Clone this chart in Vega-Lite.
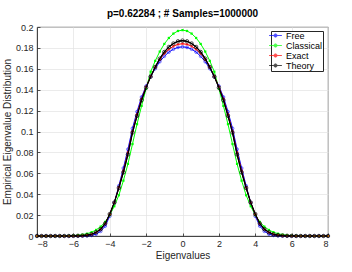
{
  "$schema": "https://vega.github.io/schema/vega-lite/v6.json",
  "width": 291,
  "height": 209,
  "autosize": {"type": "none"},
  "padding": {"left": 37, "top": 27, "right": 24, "bottom": 36},
  "background": "white",
  "title": {"text": "p=0.62284 ; # Samples=1000000", "font": "Liberation Sans", "fontSize": 10, "fontWeight": "bold", "color": "#000000", "offset": 4, "anchor": "middle"},
  "config": {
    "view": {"stroke": "#262626", "strokeWidth": 0.8},
    "axis": {"labelFont": "Liberation Sans", "labelFontSize": 9, "labelColor": "#262626", "titleFont": "Liberation Sans", "titleFontSize": 10, "titleFontWeight": "normal", "titleColor": "#262626", "gridColor": "#e3e3e3", "gridWidth": 0.7, "domainColor": "#262626", "domainWidth": 0.8, "tickColor": "#262626", "tickSize": -3, "tickWidth": 0.8}
  },
  "data": {"values": [
{"s":"Free","x":-8,"y":0},{"s":"Free","x":-7.75,"y":0},{"s":"Free","x":-7.5,"y":0},{"s":"Free","x":-7.25,"y":0},{"s":"Free","x":-7,"y":0},{"s":"Free","x":-6.75,"y":0},{"s":"Free","x":-6.5,"y":0},{"s":"Free","x":-6.25,"y":0},{"s":"Free","x":-6,"y":0},{"s":"Free","x":-5.75,"y":0},{"s":"Free","x":-5.5,"y":0.0001},{"s":"Free","x":-5.25,"y":0.0002},{"s":"Free","x":-5,"y":0.0006},{"s":"Free","x":-4.75,"y":0.0018},{"s":"Free","x":-4.5,"y":0.0045},{"s":"Free","x":-4.25,"y":0.0095},{"s":"Free","x":-4,"y":0.019},{"s":"Free","x":-3.75,"y":0.032},{"s":"Free","x":-3.5,"y":0.048},{"s":"Free","x":-3.25,"y":0.065},{"s":"Free","x":-3,"y":0.083},{"s":"Free","x":-2.75,"y":0.103},{"s":"Free","x":-2.5,"y":0.119},{"s":"Free","x":-2.25,"y":0.133},{"s":"Free","x":-2,"y":0.1435},{"s":"Free","x":-1.75,"y":0.1525},{"s":"Free","x":-1.5,"y":0.1602},{"s":"Free","x":-1.25,"y":0.1668},{"s":"Free","x":-1,"y":0.172},{"s":"Free","x":-0.75,"y":0.176},{"s":"Free","x":-0.5,"y":0.1788},{"s":"Free","x":-0.25,"y":0.1805},{"s":"Free","x":0,"y":0.181},{"s":"Free","x":0.25,"y":0.1805},{"s":"Free","x":0.5,"y":0.1788},{"s":"Free","x":0.75,"y":0.176},{"s":"Free","x":1,"y":0.172},{"s":"Free","x":1.25,"y":0.1668},{"s":"Free","x":1.5,"y":0.1602},{"s":"Free","x":1.75,"y":0.1525},{"s":"Free","x":2,"y":0.1435},{"s":"Free","x":2.25,"y":0.133},{"s":"Free","x":2.5,"y":0.119},{"s":"Free","x":2.75,"y":0.103},{"s":"Free","x":3,"y":0.083},{"s":"Free","x":3.25,"y":0.065},{"s":"Free","x":3.5,"y":0.048},{"s":"Free","x":3.75,"y":0.032},{"s":"Free","x":4,"y":0.019},{"s":"Free","x":4.25,"y":0.0095},{"s":"Free","x":4.5,"y":0.0045},{"s":"Free","x":4.75,"y":0.0018},{"s":"Free","x":5,"y":0.0006},{"s":"Free","x":5.25,"y":0.0002},{"s":"Free","x":5.5,"y":0.0001},{"s":"Free","x":5.75,"y":0},{"s":"Free","x":6,"y":0},{"s":"Free","x":6.25,"y":0},{"s":"Free","x":6.5,"y":0},{"s":"Free","x":6.75,"y":0},{"s":"Free","x":7,"y":0},{"s":"Free","x":7.25,"y":0},{"s":"Free","x":7.5,"y":0},{"s":"Free","x":7.75,"y":0},{"s":"Free","x":8,"y":0},
{"s":"Classical","x":-8,"y":0},{"s":"Classical","x":-7.75,"y":0},{"s":"Classical","x":-7.5,"y":0},{"s":"Classical","x":-7.25,"y":0},{"s":"Classical","x":-7,"y":0},{"s":"Classical","x":-6.75,"y":0},{"s":"Classical","x":-6.5,"y":0.0001},{"s":"Classical","x":-6.25,"y":0.0002},{"s":"Classical","x":-6,"y":0.0004},{"s":"Classical","x":-5.75,"y":0.0007},{"s":"Classical","x":-5.5,"y":0.0013},{"s":"Classical","x":-5.25,"y":0.0022},{"s":"Classical","x":-5,"y":0.0036},{"s":"Classical","x":-4.75,"y":0.0058},{"s":"Classical","x":-4.5,"y":0.009},{"s":"Classical","x":-4.25,"y":0.0135},{"s":"Classical","x":-4,"y":0.02},{"s":"Classical","x":-3.75,"y":0.0285},{"s":"Classical","x":-3.5,"y":0.039},{"s":"Classical","x":-3.25,"y":0.053},{"s":"Classical","x":-3,"y":0.069},{"s":"Classical","x":-2.75,"y":0.088},{"s":"Classical","x":-2.5,"y":0.107},{"s":"Classical","x":-2.25,"y":0.1245},{"s":"Classical","x":-2,"y":0.141},{"s":"Classical","x":-1.75,"y":0.1572},{"s":"Classical","x":-1.5,"y":0.1676},{"s":"Classical","x":-1.25,"y":0.1765},{"s":"Classical","x":-1,"y":0.1838},{"s":"Classical","x":-0.75,"y":0.1895},{"s":"Classical","x":-0.5,"y":0.1937},{"s":"Classical","x":-0.25,"y":0.1962},{"s":"Classical","x":0,"y":0.197},{"s":"Classical","x":0.25,"y":0.1962},{"s":"Classical","x":0.5,"y":0.1937},{"s":"Classical","x":0.75,"y":0.1895},{"s":"Classical","x":1,"y":0.1838},{"s":"Classical","x":1.25,"y":0.1765},{"s":"Classical","x":1.5,"y":0.1676},{"s":"Classical","x":1.75,"y":0.1572},{"s":"Classical","x":2,"y":0.141},{"s":"Classical","x":2.25,"y":0.1245},{"s":"Classical","x":2.5,"y":0.107},{"s":"Classical","x":2.75,"y":0.088},{"s":"Classical","x":3,"y":0.069},{"s":"Classical","x":3.25,"y":0.053},{"s":"Classical","x":3.5,"y":0.039},{"s":"Classical","x":3.75,"y":0.0285},{"s":"Classical","x":4,"y":0.02},{"s":"Classical","x":4.25,"y":0.0135},{"s":"Classical","x":4.5,"y":0.009},{"s":"Classical","x":4.75,"y":0.0058},{"s":"Classical","x":5,"y":0.0036},{"s":"Classical","x":5.25,"y":0.0022},{"s":"Classical","x":5.5,"y":0.0013},{"s":"Classical","x":5.75,"y":0.0007},{"s":"Classical","x":6,"y":0.0004},{"s":"Classical","x":6.25,"y":0.0002},{"s":"Classical","x":6.5,"y":0.0001},{"s":"Classical","x":6.75,"y":0},{"s":"Classical","x":7,"y":0},{"s":"Classical","x":7.25,"y":0},{"s":"Classical","x":7.5,"y":0},{"s":"Classical","x":7.75,"y":0},{"s":"Classical","x":8,"y":0},
{"s":"Exact","x":-8,"y":0},{"s":"Exact","x":-7.75,"y":0},{"s":"Exact","x":-7.5,"y":0},{"s":"Exact","x":-7.25,"y":0},{"s":"Exact","x":-7,"y":0},{"s":"Exact","x":-6.75,"y":0},{"s":"Exact","x":-6.5,"y":0},{"s":"Exact","x":-6.25,"y":0},{"s":"Exact","x":-6,"y":0.0001},{"s":"Exact","x":-5.75,"y":0.0002},{"s":"Exact","x":-5.5,"y":0.0004},{"s":"Exact","x":-5.25,"y":0.0008},{"s":"Exact","x":-5,"y":0.0016},{"s":"Exact","x":-4.75,"y":0.0034},{"s":"Exact","x":-4.5,"y":0.0065},{"s":"Exact","x":-4.25,"y":0.0118},{"s":"Exact","x":-4,"y":0.0205},{"s":"Exact","x":-3.75,"y":0.032},{"s":"Exact","x":-3.5,"y":0.0465},{"s":"Exact","x":-3.25,"y":0.0625},{"s":"Exact","x":-3,"y":0.08},{"s":"Exact","x":-2.75,"y":0.1},{"s":"Exact","x":-2.5,"y":0.1165},{"s":"Exact","x":-2.25,"y":0.1312},{"s":"Exact","x":-2,"y":0.1428},{"s":"Exact","x":-1.75,"y":0.1528},{"s":"Exact","x":-1.5,"y":0.1615},{"s":"Exact","x":-1.25,"y":0.1688},{"s":"Exact","x":-1,"y":0.1745},{"s":"Exact","x":-0.75,"y":0.1786},{"s":"Exact","x":-0.5,"y":0.1816},{"s":"Exact","x":-0.25,"y":0.1834},{"s":"Exact","x":0,"y":0.184},{"s":"Exact","x":0.25,"y":0.1834},{"s":"Exact","x":0.5,"y":0.1816},{"s":"Exact","x":0.75,"y":0.1786},{"s":"Exact","x":1,"y":0.1745},{"s":"Exact","x":1.25,"y":0.1688},{"s":"Exact","x":1.5,"y":0.1615},{"s":"Exact","x":1.75,"y":0.1528},{"s":"Exact","x":2,"y":0.1428},{"s":"Exact","x":2.25,"y":0.1312},{"s":"Exact","x":2.5,"y":0.1165},{"s":"Exact","x":2.75,"y":0.1},{"s":"Exact","x":3,"y":0.08},{"s":"Exact","x":3.25,"y":0.0625},{"s":"Exact","x":3.5,"y":0.0465},{"s":"Exact","x":3.75,"y":0.032},{"s":"Exact","x":4,"y":0.0205},{"s":"Exact","x":4.25,"y":0.0118},{"s":"Exact","x":4.5,"y":0.0065},{"s":"Exact","x":4.75,"y":0.0034},{"s":"Exact","x":5,"y":0.0016},{"s":"Exact","x":5.25,"y":0.0008},{"s":"Exact","x":5.5,"y":0.0004},{"s":"Exact","x":5.75,"y":0.0002},{"s":"Exact","x":6,"y":0.0001},{"s":"Exact","x":6.25,"y":0},{"s":"Exact","x":6.5,"y":0},{"s":"Exact","x":6.75,"y":0},{"s":"Exact","x":7,"y":0},{"s":"Exact","x":7.25,"y":0},{"s":"Exact","x":7.5,"y":0},{"s":"Exact","x":7.75,"y":0},{"s":"Exact","x":8,"y":0},
{"s":"Theory","x":-8,"y":0},{"s":"Theory","x":-7.75,"y":0},{"s":"Theory","x":-7.5,"y":0},{"s":"Theory","x":-7.25,"y":0},{"s":"Theory","x":-7,"y":0},{"s":"Theory","x":-6.75,"y":0},{"s":"Theory","x":-6.5,"y":0},{"s":"Theory","x":-6.25,"y":0},{"s":"Theory","x":-6,"y":0.0001},{"s":"Theory","x":-5.75,"y":0.0002},{"s":"Theory","x":-5.5,"y":0.0004},{"s":"Theory","x":-5.25,"y":0.0008},{"s":"Theory","x":-5,"y":0.0017},{"s":"Theory","x":-4.75,"y":0.0035},{"s":"Theory","x":-4.5,"y":0.0065},{"s":"Theory","x":-4.25,"y":0.012},{"s":"Theory","x":-4,"y":0.021},{"s":"Theory","x":-3.75,"y":0.032},{"s":"Theory","x":-3.5,"y":0.046},{"s":"Theory","x":-3.25,"y":0.061},{"s":"Theory","x":-3,"y":0.078},{"s":"Theory","x":-2.75,"y":0.099},{"s":"Theory","x":-2.5,"y":0.115},{"s":"Theory","x":-2.25,"y":0.13},{"s":"Theory","x":-2,"y":0.142},{"s":"Theory","x":-1.75,"y":0.1525},{"s":"Theory","x":-1.5,"y":0.1618},{"s":"Theory","x":-1.25,"y":0.1697},{"s":"Theory","x":-1,"y":0.1761},{"s":"Theory","x":-0.75,"y":0.1809},{"s":"Theory","x":-0.5,"y":0.1842},{"s":"Theory","x":-0.25,"y":0.1863},{"s":"Theory","x":0,"y":0.187},{"s":"Theory","x":0.25,"y":0.1863},{"s":"Theory","x":0.5,"y":0.1842},{"s":"Theory","x":0.75,"y":0.1809},{"s":"Theory","x":1,"y":0.1761},{"s":"Theory","x":1.25,"y":0.1697},{"s":"Theory","x":1.5,"y":0.1618},{"s":"Theory","x":1.75,"y":0.1525},{"s":"Theory","x":2,"y":0.142},{"s":"Theory","x":2.25,"y":0.13},{"s":"Theory","x":2.5,"y":0.115},{"s":"Theory","x":2.75,"y":0.099},{"s":"Theory","x":3,"y":0.078},{"s":"Theory","x":3.25,"y":0.061},{"s":"Theory","x":3.5,"y":0.046},{"s":"Theory","x":3.75,"y":0.032},{"s":"Theory","x":4,"y":0.021},{"s":"Theory","x":4.25,"y":0.012},{"s":"Theory","x":4.5,"y":0.0065},{"s":"Theory","x":4.75,"y":0.0035},{"s":"Theory","x":5,"y":0.0017},{"s":"Theory","x":5.25,"y":0.0008},{"s":"Theory","x":5.5,"y":0.0004},{"s":"Theory","x":5.75,"y":0.0002},{"s":"Theory","x":6,"y":0.0001},{"s":"Theory","x":6.25,"y":0},{"s":"Theory","x":6.5,"y":0},{"s":"Theory","x":6.75,"y":0},{"s":"Theory","x":7,"y":0},{"s":"Theory","x":7.25,"y":0},{"s":"Theory","x":7.5,"y":0},{"s":"Theory","x":7.75,"y":0},{"s":"Theory","x":8,"y":0}
  ]},
  "encoding": {
    "x": {"field": "x", "type": "quantitative", "scale": {"domain": [-8, 8], "nice": false}, "axis": {"title": "Eigenvalues", "values": [-8,-6,-4,-2,0,2,4,6,8], "labelPadding": 6, "titlePadding": 2}},
    "y": {"field": "y", "type": "quantitative", "scale": {"domain": [0, 0.2], "nice": false}, "axis": {"title": "Empirical Eigenvalue Distribution", "values": [0,0.02,0.04,0.06,0.08,0.1,0.12,0.14,0.16,0.18,0.2], "format": "~g", "labelPadding": 7, "titlePadding": 3}},
    "color": {"field": "s", "type": "nominal", "sort": ["Free", "Classical", "Exact", "Theory"], "scale": {"domain": ["Free", "Classical", "Exact", "Theory"], "range": ["#0000ff", "#00ff00", "#ff0000", "#000000"]}, "legend": {"title": null, "orient": "none", "legendX": 234, "legendY": 4, "padding": {"left": 4, "right": 2, "top": 1, "bottom": 1}, "strokeColor": "#262626", "fillColor": "white", "labelFont": "Liberation Sans", "labelFontSize": 9, "labelColor": "#000000", "labelOffset": 6, "symbolType": "M-1.6,0L1.6,0M0.4,0A0.4,0.4,0,1,1,-0.4,0A0.4,0.4,0,1,1,0.4,0", "symbolSize": 64, "symbolStrokeWidth": 1, "symbolFillColor": "transparent", "rowPadding": 0, "labelLimit": 60}}
  },
  "layer": [
    {"mark": {"type": "line", "strokeWidth": 1}},
    {"transform": [{"filter": "datum.s == 'Free'"}], "mark": {"type": "point", "shape": "circle", "filled": false, "strokeWidth": 0.8, "size": 8}},
    {"transform": [{"filter": "datum.s == 'Classical'"}], "mark": {"type": "point", "shape": "square", "filled": true, "opacity": 1, "size": 5}},
    {"transform": [{"filter": "datum.s == 'Exact'"}], "mark": {"type": "point", "shape": "M-1,0L1,0M0,-1L0,1M-0.7,-0.7L0.7,0.7M-0.7,0.7L0.7,-0.7", "filled": false, "strokeWidth": 0.8, "size": 8}},
    {"transform": [{"filter": "datum.s == 'Theory'"}], "mark": {"type": "line", "strokeWidth": 1.2}},
    {"transform": [{"filter": "datum.s == 'Theory'"}], "mark": {"type": "point", "shape": "circle", "filled": false, "strokeWidth": 1, "size": 12}}
  ]
}
